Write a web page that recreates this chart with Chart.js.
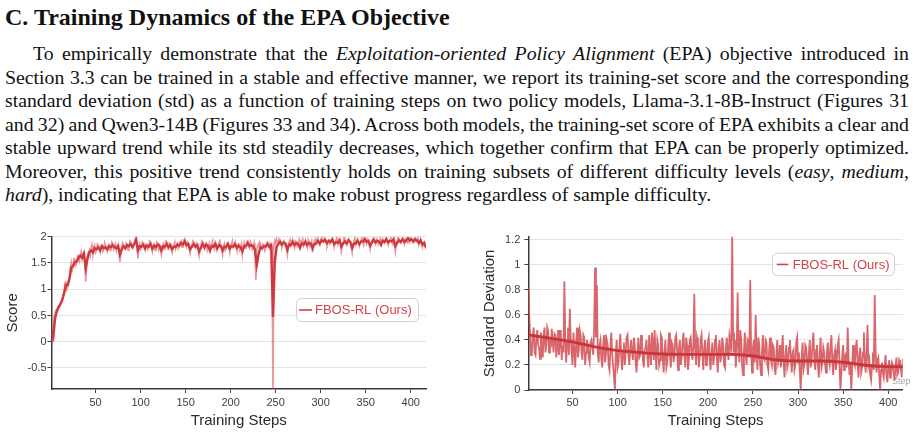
<!DOCTYPE html>
<html><head><meta charset="utf-8">
<script src="https://cdn.jsdelivr.net/npm/chart.js@4.4.1/dist/chart.umd.min.js"></script>
<style>
html,body{margin:0;padding:0;background:#fff;}
body{width:918px;height:436px;position:relative;overflow:hidden;font-family:"Liberation Serif","Times New Roman",serif;color:#111;}
#h{position:absolute;left:5px;top:4.9px;font-size:24px;line-height:24px;font-weight:bold;white-space:nowrap;margin:0;}
.ln{position:absolute;left:5px;width:904px;font-size:19.8px;line-height:23.5px;text-align:justify;text-align-last:justify;word-spacing:-2px;}
.ln.last{text-align-last:left;word-spacing:0;}
canvas{position:absolute;}
</style></head>
<body>
<div id="h">C. Training Dynamics of the EPA Objective</div>
<div class="ln" style="top:42.1px;text-indent:28px;">To empirically demonstrate that the <i>Exploitation-oriented Policy Alignment</i> (EPA) objective introduced in</div>
<div class="ln" style="top:65.6px;">Section 3.3 can be trained in a stable and effective manner, we report its training-set score and the corresponding</div>
<div class="ln" style="top:89.1px;">standard deviation (std) as a function of training steps on two policy models, Llama-3.1-8B-Instruct (Figures 31</div>
<div class="ln" style="top:112.6px;">and 32) and Qwen3-14B (Figures 33 and 34). Across both models, the training-set score of EPA exhibits a clear and</div>
<div class="ln" style="top:136.1px;">stable upward trend while its std steadily decreases, which together confirm that EPA can be properly optimized.</div>
<div class="ln" style="top:159.6px;">Moreover, this positive trend consistently holds on training subsets of different difficulty levels (<i>easy</i>, <i>medium</i>,</div>
<div class="ln last" style="top:183.1px;"><i>hard</i>), indicating that EPA is able to make robust progress regardless of sample difficulty.</div>
<canvas id="c1" width="460" height="206" style="left:0;top:230px;"></canvas>
<canvas id="c2" width="458" height="206" style="left:460px;top:230px;"></canvas>
<script>
// ---------- data ----------
const seriesLabel = 'FBOS-RL (Ours)';
const xTitle = 'Training Steps';
const scoreTitle = 'Score';
const stdTitle = 'Standard Deviation';
const xTicks = [50, 100, 150, 200, 250, 300, 350, 400];
const scoreTicks = [-0.5, 0, 0.5, 1, 1.5, 2];
const stdTicks = [0, 0.2, 0.4, 0.6, 0.8, 1, 1.2];

// raw values are logged at every step 1..417, smoothed score at every 2nd step
const rawSteps = [];
for (let s = 1; s <= 417; s += 1) rawSteps.push(s);
const smoothSteps = [];
for (let s = 1; s <= 417; s += 2) smoothSteps.push(s);

const scoreRaw = [
0.20,0.00,0.02,0.48,0.55,0.60,0.62,0.66,0.68,0.70,0.72,0.76,0.80,0.90,0.95,1.12,1.15,1.00,1.05,1.18,
1.22,1.40,1.50,1.36,1.42,1.58,1.56,1.46,1.52,1.64,1.62,1.54,1.66,1.72,1.58,1.68,1.72,1.50,1.15,1.45,
1.62,1.70,1.74,1.64,1.78,1.84,1.66,1.74,1.82,1.70,1.74,1.86,1.84,1.76,1.70,1.82,1.86,1.72,1.76,1.88,
1.82,1.76,1.72,1.84,1.85,1.74,1.78,1.90,1.88,1.76,1.80,1.86,1.74,1.82,1.86,1.70,1.52,1.68,1.80,1.88,
1.84,1.78,1.76,1.88,1.86,1.74,1.80,1.92,1.90,1.80,1.78,1.86,1.88,1.94,2.02,1.84,1.58,1.80,1.86,1.76,
1.80,1.90,1.88,1.78,1.74,1.86,1.85,1.76,1.80,1.92,1.90,1.80,1.72,1.84,1.86,1.74,1.78,1.90,1.88,1.76,
1.82,1.74,1.66,1.80,1.86,1.76,1.80,1.92,1.90,1.78,1.76,1.88,1.86,1.76,1.70,1.82,1.84,1.90,1.78,1.86,
1.88,1.78,1.82,1.90,1.92,1.80,1.84,1.94,1.96,1.84,1.80,1.90,1.88,1.76,1.68,1.80,1.84,1.92,1.90,1.80,
1.78,1.88,1.86,1.74,1.64,1.78,1.82,1.92,1.90,1.80,1.76,1.86,1.88,1.74,1.80,1.86,1.68,1.80,1.86,1.92,
1.80,1.76,1.90,1.86,1.74,1.80,1.88,1.92,1.82,1.76,1.66,1.80,1.86,1.74,1.78,1.88,1.90,1.80,1.70,1.84,
1.86,1.92,1.80,1.84,1.90,1.80,1.74,1.84,1.86,1.74,1.78,1.86,1.66,1.80,1.88,1.78,1.82,1.90,1.92,1.82,
1.78,1.90,1.86,1.76,1.80,1.88,1.70,1.17,1.76,1.84,1.82,1.90,1.88,1.78,1.76,1.86,1.84,1.74,1.80,1.88,
1.90,1.82,1.78,1.88,1.86,1.80,-0.90,1.84,1.92,1.86,1.96,1.90,1.88,1.96,1.94,1.84,1.82,1.90,1.92,1.84,
1.86,1.78,1.66,1.84,1.90,1.94,1.84,1.88,1.94,1.86,1.80,1.92,1.90,1.82,1.86,1.94,1.74,1.86,1.92,1.96,
1.84,1.90,1.94,1.86,1.80,1.94,1.90,1.82,1.86,1.92,1.70,1.84,1.92,1.96,1.88,1.94,1.96,1.88,1.84,1.94,
1.98,1.92,1.90,1.98,1.96,1.88,1.84,1.92,1.94,1.86,1.88,1.96,1.98,1.90,1.80,1.88,1.92,1.98,1.86,1.94,
1.96,1.86,1.72,1.84,1.90,1.98,1.94,1.88,1.84,1.94,1.96,1.90,1.88,1.80,1.70,1.86,1.92,1.98,1.86,1.92,
1.96,1.88,1.82,1.90,1.94,1.98,1.90,1.86,1.98,1.92,1.86,1.96,1.94,1.86,1.76,1.88,1.92,1.96,1.98,1.90,
1.86,1.96,1.94,1.86,1.90,1.96,1.80,1.90,1.96,1.92,1.88,1.96,1.98,1.90,1.84,1.92,1.94,1.98,1.90,1.86,
1.98,1.88,1.72,1.86,1.92,1.98,1.96,1.90,1.88,1.94,1.98,1.92,1.86,1.96,1.94,1.88,2.00,1.94,1.90,1.98,
1.96,1.90,1.88,1.96,1.98,1.90,1.92,1.98,1.84,1.90,1.96,1.86,1.80,1.88,1.90,1.82,1.76
];
const scoreSmooth = [
0.20,0.10,0.45,0.58,0.66,0.72,0.80,0.92,1.08,1.08,1.20,1.42,1.44,1.52,1.52,1.60,1.64,1.60,1.68,1.40,1.58,1.70,1.74,1.70,1.78,
1.76,1.80,1.74,1.82,1.78,1.80,1.76,1.82,1.80,1.84,1.80,1.78,1.82,1.66,1.76,1.82,1.78,1.84,1.82,1.86,1.80,1.86,1.94,1.74,1.82,
1.81,1.85,1.78,1.83,1.81,1.86,1.77,1.83,1.80,1.85,1.83,1.74,1.82,1.81,1.86,1.80,1.84,1.76,1.81,1.80,1.85,1.83,1.88,1.85,1.91,
1.84,1.86,1.76,1.81,1.86,1.81,1.84,1.72,1.79,1.86,1.80,1.85,1.82,1.74,1.82,1.81,1.86,1.78,1.84,1.83,1.74,1.81,1.80,1.86,1.77,
1.82,1.81,1.86,1.79,1.83,1.80,1.72,1.82,1.82,1.88,1.82,1.84,1.82,1.75,1.46,1.66,1.80,1.78,1.82,1.81,1.86,1.81,1.84,0.47,1.50,
1.80,1.86,1.90,1.85,1.89,1.87,1.75,1.85,1.84,1.90,1.84,1.88,1.86,1.79,1.87,1.85,1.90,1.84,1.88,1.87,1.78,1.86,1.87,1.92,1.87,
1.93,1.91,1.94,1.88,1.92,1.90,1.94,1.86,1.90,1.88,1.93,1.81,1.87,1.91,1.87,1.93,1.90,1.79,1.87,1.87,1.92,1.86,1.91,1.91,1.95,
1.90,1.92,1.83,1.89,1.94,1.89,1.92,1.91,1.85,1.92,1.90,1.95,1.89,1.92,1.91,1.95,1.82,1.88,1.93,1.90,1.95,1.90,1.93,1.97,1.93,
1.95,1.91,1.95,1.93,1.88,1.93,1.85,1.88,1.80
];
const stdRaw = [
0.82,0.60,0.45,0.28,0.30,0.44,0.50,0.30,0.28,0.42,0.48,0.36,0.33,0.25,0.46,0.34,0.26,0.44,0.50,0.30,
0.36,0.50,0.47,0.30,0.40,0.34,0.49,0.38,0.30,0.45,0.44,0.26,0.34,0.48,0.28,0.40,0.48,0.24,0.36,0.30,
0.87,0.40,0.22,0.38,0.50,0.28,0.65,0.42,0.30,0.20,0.46,0.32,0.18,0.36,0.50,0.26,0.32,0.48,0.44,0.30,
0.24,0.44,0.42,0.20,0.30,0.40,0.36,0.26,0.22,0.38,0.40,0.34,0.28,0.50,0.98,0.42,0.84,0.30,0.22,0.36,
0.40,0.24,0.18,0.36,0.44,0.22,0.28,0.40,0.36,0.20,0.16,0.34,0.46,0.28,0.20,0.10,0.00,0.30,0.40,0.18,
0.22,0.34,0.45,0.26,0.16,0.30,0.38,0.20,0.30,0.42,0.44,0.28,0.20,0.34,0.40,0.30,0.24,0.42,0.36,0.22,
0.14,0.30,0.42,0.26,0.28,0.44,0.38,0.24,0.18,0.32,0.34,0.40,0.26,0.18,0.44,0.30,0.20,0.46,0.38,0.24,
0.48,0.30,0.16,0.40,0.36,0.20,0.24,0.44,0.42,0.26,0.14,0.30,0.40,0.18,0.22,0.34,0.46,0.28,0.18,0.38,
0.36,0.22,0.28,0.42,0.44,0.30,0.16,0.34,0.40,0.20,0.26,0.38,0.46,0.30,0.18,0.42,0.36,0.16,0.24,0.40,
0.42,0.30,0.24,0.36,0.77,0.32,0.20,0.42,0.38,0.18,0.26,0.40,0.44,0.28,0.16,0.34,0.40,0.20,0.22,0.38,
0.42,0.24,0.16,0.30,0.38,0.20,0.26,0.40,0.44,0.26,0.14,0.34,0.40,0.22,0.28,0.42,0.36,0.20,0.18,0.34,
0.42,0.30,0.24,0.44,0.40,0.30,1.23,0.46,0.30,0.40,0.18,0.32,0.78,0.36,0.22,0.48,0.40,0.20,0.12,0.30,
0.46,0.28,0.20,0.40,0.38,0.26,0.88,0.30,0.14,0.34,0.40,0.22,0.60,0.30,0.16,0.42,0.36,0.20,0.12,0.30,
0.44,0.26,0.24,0.40,0.38,0.20,0.16,0.32,0.42,0.24,0.20,0.36,0.34,0.18,0.12,0.30,0.40,0.22,0.26,0.36,
0.18,0.30,0.44,0.22,0.10,0.28,0.36,0.18,0.22,0.34,0.40,0.26,0.14,0.30,0.32,0.16,0.20,0.38,0.42,0.22,
0.30,0.14,0.00,0.26,0.38,0.16,0.20,0.36,0.34,0.22,0.12,0.30,0.40,0.18,0.24,0.36,0.46,0.26,0.16,0.32,
0.36,0.20,0.10,0.28,0.42,0.18,0.22,0.34,0.30,0.20,0.14,0.30,0.38,0.24,0.20,0.36,0.44,0.22,0.12,0.28,
0.32,0.16,0.24,0.36,0.40,0.20,0.00,0.14,0.28,0.36,0.16,0.24,0.30,0.18,0.50,0.26,0.12,0.22,0.00,0.18,
0.36,0.24,0.20,0.34,0.40,0.22,0.10,0.28,0.34,0.14,0.18,0.30,0.46,0.22,0.14,0.30,0.52,0.20,0.24,0.12,
0.08,0.20,0.30,0.16,0.76,0.30,0.14,0.24,0.26,0.12,0.00,0.16,0.22,0.14,0.10,0.20,0.28,0.12,0.06,0.18,
0.24,0.10,0.12,0.22,0.20,0.14,0.08,0.18,0.26,0.12,0.14,0.24,0.22,0.16,0.10,0.25,0.48
];
const stdTrendSteps = [1, 25, 50, 75, 100, 125, 150, 175, 200, 225, 250, 275, 300, 325, 350, 375, 400, 417];
const stdTrend = [0.44, 0.415, 0.385, 0.345, 0.315, 0.300, 0.288, 0.285, 0.285, 0.286, 0.272, 0.242, 0.232, 0.232, 0.222, 0.198, 0.187, 0.186];

// ---------- drawing ----------
const SANS = '"Liberation Sans", Arial, Helvetica, sans-serif';
Chart.defaults.font.family = SANS;
const RED = '#cf383e';

const pts = (xs, ys) => ys.map((y, i) => ({ x: xs[i], y: y }));

const boxLegend = {
  id: 'boxLegend',
  afterDraw(chart, args, o) {
    const ctx = chart.ctx;
    ctx.save();
    ctx.beginPath();
    ctx.roundRect(o.x + 0.5, o.y + 0.5, o.w, o.h, 5);
    ctx.fillStyle = 'rgba(255,255,255,0.92)';
    ctx.fill();
    ctx.strokeStyle = '#cfcfcf';
    ctx.lineWidth = 1;
    ctx.stroke();
    const cy = o.y + o.h / 2 + 0.5;
    ctx.strokeStyle = o.color;
    ctx.lineWidth = 1.6;
    ctx.beginPath(); ctx.moveTo(o.lx0, cy); ctx.lineTo(o.lx1, cy); ctx.stroke();
    ctx.fillStyle = o.color;
    ctx.font = '13px ' + SANS;
    ctx.textBaseline = 'middle';
    ctx.fillText(o.text, o.tx, cy + 0.5);
    ctx.restore();
  }
};
const stepTag = {
  id: 'stepTag',
  beforeDatasetsDraw(chart, args, o) {
    if (!o.show) return;
    const ctx = chart.ctx;
    ctx.save();
    ctx.fillStyle = '#a3a3a3';
    ctx.font = '9px ' + SANS;
    ctx.textBaseline = 'middle';
    ctx.fillText('Step', o.x, o.y);
    ctx.restore();
  }
};

function axisX(max, h, tickPad, titlePadBottom) {
  return {
    type: 'linear', min: 1, max: max,
    afterBuildTicks: s => { s.ticks = xTicks.map(v => ({ value: v })); },
    afterFit: s => { s.height = h; s.paddingLeft = 0; s.paddingRight = 0; },
    ticks: { autoSkip: false, maxRotation: 0, padding: tickPad, color: '#404040', font: { size: 11 }, callback: v => String(v) },
    grid: { drawOnChartArea: false, drawTicks: true, tickLength: 4, tickColor: '#444' },
    border: { color: '#3a3a3a', width: 1.5 },
    title: { display: true, text: xTitle, color: '#2b2b2b', font: { size: 15 }, padding: { top: 0, bottom: titlePadBottom } }
  };
}
function axisY(min, max, ticks, w, tickPad, title, titlePadTop) {
  return {
    type: 'linear', min: min, max: max,
    afterBuildTicks: s => { s.ticks = ticks.map(v => ({ value: v })); },
    afterFit: s => { s.width = w; s.paddingTop = 0; s.paddingBottom = 0; },
    ticks: { padding: tickPad, color: '#404040', font: { size: 11 }, callback: v => String(v) },
    grid: { color: '#e4e4e4', lineWidth: 1, drawTicks: true, tickLength: 4, tickColor: '#444' },
    border: { color: '#3a3a3a', width: 1.5 },
    title: { display: true, text: title, color: '#2b2b2b', font: { size: 15 }, padding: { top: titlePadTop, bottom: 0 } }
  };
}

new Chart(document.getElementById('c1'), {
  type: 'line',
  data: {
    datasets: [
      { label: seriesLabel, data: pts(smoothSteps, scoreSmooth), borderColor: RED, borderWidth: 2.4, pointRadius: 0, tension: 0 },
      { label: seriesLabel + ' raw', data: pts(rawSteps, scoreRaw), borderColor: 'rgba(212,66,72,0.55)', borderWidth: 1.7, pointRadius: 0, tension: 0 }
    ]
  },
  options: {
    responsive: false, animation: false, devicePixelRatio: 1,
    layout: { padding: { top: 6.7, right: 34, left: 0, bottom: 0 } },
    scales: { x: axisX(417, 47, 3, 6), y: axisY(-0.9, 2.0, scoreTicks, 51.5, 1, scoreTitle, 4) },
    plugins: {
      legend: { display: false }, tooltip: { enabled: false },
      boxLegend: { x: 296, y: 68, w: 122, h: 23, lx0: 299, lx1: 312, tx: 315, text: seriesLabel, color: '#d4434a' },
      stepTag: { show: false }
    }
  },
  plugins: [boxLegend, stepTag]
});

new Chart(document.getElementById('c2'), {
  type: 'line',
  data: {
    datasets: [
      { label: seriesLabel, data: pts(stdTrendSteps, stdTrend), borderColor: '#c8353b', borderWidth: 2.8, pointRadius: 0, cubicInterpolationMode: 'monotone' },
      { label: seriesLabel + ' raw', data: pts(rawSteps, stdRaw), borderColor: 'rgba(208,58,64,0.78)', borderWidth: 1.8, pointRadius: 0, tension: 0 }
    ]
  },
  options: {
    responsive: false, animation: false, devicePixelRatio: 1,
    layout: { padding: { top: 6.7, right: 15.3, left: 0, bottom: 0 } },
    scales: { x: axisX(416, 46, 2, 6.3), y: axisY(0, 1.226, stdTicks, 68.3, 4, stdTitle, 21) },
    plugins: {
      legend: { display: false }, tooltip: { enabled: false },
      boxLegend: { x: 312, y: 22.7, w: 122, h: 22.5, lx0: 316.7, lx1: 328.3, tx: 332.7, text: seriesLabel, color: '#d4434a' },
      stepTag: { show: true, x: 432, y: 152 }
    }
  },
  plugins: [boxLegend, stepTag]
});
</script>
</body></html>
